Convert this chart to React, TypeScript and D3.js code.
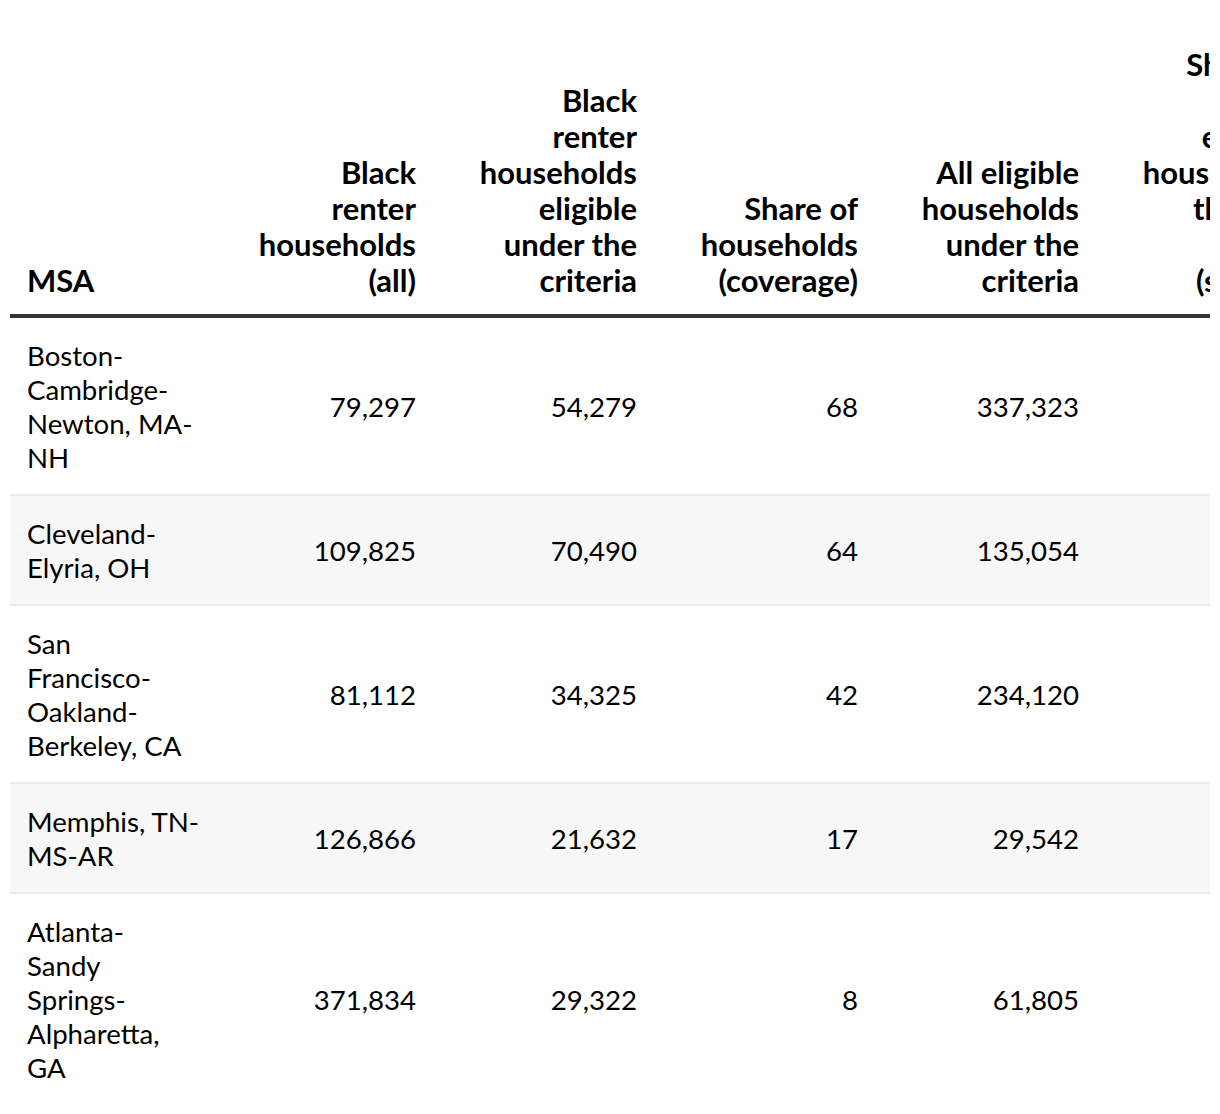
import React from "react";
import * as d3 from "d3";

const headers: string[][] = [
  ["MSA"],
  ["Black", "renter", "households", "(all)"],
  ["Black", "renter", "households", "eligible", "under the", "criteria"],
  ["Share of", "households", "(coverage)"],
  ["All eligible", "households", "under the", "criteria"],
  ["Share of", "all", "eligible", "households", "that are", "Black", "(shares)"],
];

const msa: string[][] = [
  ["Boston-", "Cambridge-", "Newton, MA-", "NH"],
  ["Cleveland-", "Elyria, OH"],
  ["San", "Francisco-", "Oakland-", "Berkeley, CA"],
  ["Memphis, TN-", "MS-AR"],
  ["Atlanta-", "Sandy", "Springs-", "Alpharetta,", "GA"],
];
const blackRenterAll = [79297, 109825, 81112, 126866, 371834];
const blackEligible = [54279, 70490, 34325, 21632, 29322];
const coverage = [68, 64, 42, 17, 8];
const allEligible = [337323, 135054, 234120, 29542, 61805];
const shareBlack = [16, 52, 15, 73, 47];

const W = 1202;
const H = 1098;
const FONT = "Lato, 'Noto Sans', sans-serif";
const DATA_SIZE = 27.6;
const HEAD_SIZE = 31;
const DATA_LH = 34;
const HEAD_LH = 36;
const PAD_X = 17;
const PAD_Y = 20;
const TABLE_X = 2;
const colWidths = [202, 221, 221, 221, 221, 221];
const HEAD_BORDER_Y = 306;
const HEAD_BORDER_H = 4;
const ROW_BORDER = 2;

export default function App() {
  const fmt = d3.format(",");
  const colEdges = [TABLE_X, ...d3.cumsum(colWidths).map((v) => v + TABLE_X)];
  const numCols = [blackRenterAll, blackEligible, coverage, allEligible, shareBlack];

  const rowHeights = msa.map((lines) => PAD_Y * 2 + DATA_LH * lines.length);
  const rowTops: number[] = [];
  let y = HEAD_BORDER_Y + HEAD_BORDER_H;
  rowHeights.forEach((h) => {
    rowTops.push(y);
    y += h + ROW_BORDER;
  });

  const base = (center: number, size: number) => center + 0.36 * size;
  const headLastCenter = 273;

  return (
    <svg width={W} height={H} style={{ display: "block" }} fontFamily={FONT}>
      <rect x={0} y={0} width={W} height={H} fill="#ffffff" />
      {headers.map((lines, ci) => {
        const right = ci > 0;
        const x = right ? colEdges[ci + 1] - PAD_X : colEdges[ci] + PAD_X;
        return (
          <text
            key={"h" + ci}
            fontSize={HEAD_SIZE}
            fontWeight={700}
            fill="#000"
            textAnchor={right ? "end" : "start"}
          >
            {lines.map((ln, li) => (
              <tspan
                key={li}
                x={x}
                y={base(headLastCenter - HEAD_LH * (lines.length - 1 - li), HEAD_SIZE)}
              >
                {ln}
              </tspan>
            ))}
          </text>
        );
      })}
      <rect x={TABLE_X} y={HEAD_BORDER_Y} width={W - TABLE_X} height={HEAD_BORDER_H} fill="#333333" />
      {msa.map((lines, ri) => {
        const top = rowTops[ri];
        const h = rowHeights[ri];
        const center = top + h / 2 + 1;
        return (
          <g key={"r" + ri}>
            <rect
              x={TABLE_X}
              y={top}
              width={W - TABLE_X}
              height={h}
              fill={ri % 2 === 1 ? "#f7f7f7" : "#ffffff"}
            />
            {ri < msa.length - 1 && (
              <rect x={TABLE_X} y={top + h} width={W - TABLE_X} height={ROW_BORDER} fill="#ebebeb" />
            )}
            <text fontSize={DATA_SIZE} fill="#000">
              {lines.map((ln, li) => (
                <tspan
                  key={li}
                  x={colEdges[0] + PAD_X}
                  y={base(top + PAD_Y + DATA_LH * li + DATA_LH / 2 + 1, DATA_SIZE)}
                >
                  {ln}
                </tspan>
              ))}
            </text>
            {numCols.map((vals, ci) => (
              <text
                key={ci}
                x={colEdges[ci + 2] - PAD_X}
                y={base(center, DATA_SIZE)}
                fontSize={DATA_SIZE}
                fill="#000"
                textAnchor="end"
              >
                {fmt(vals[ri])}
              </text>
            ))}
          </g>
        );
      })}
    </svg>
  );
}
